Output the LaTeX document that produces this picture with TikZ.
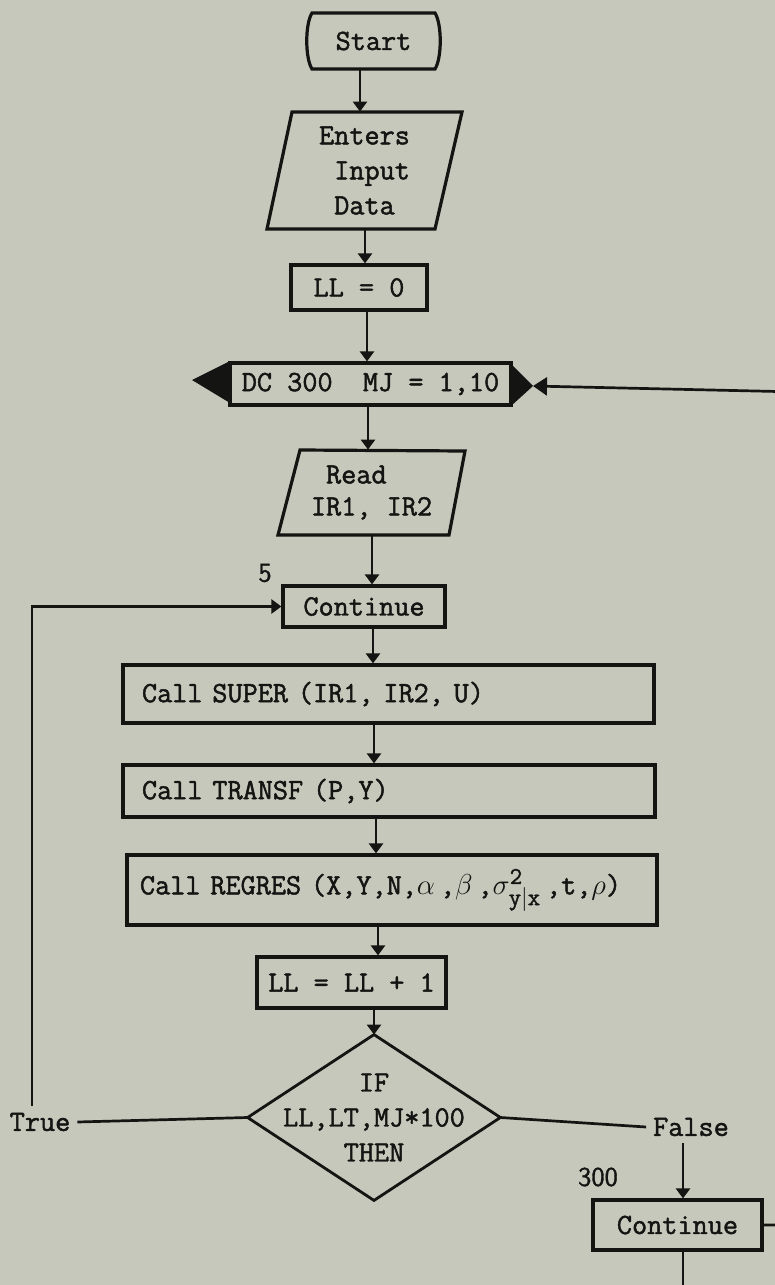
\documentclass[tikz,border=0pt]{standalone}
\usepackage{fontspec}
\newfontfamily\typew{Latin Modern Mono}[FakeBold=1.6]
\newfontfamily\labfont{Latin Modern Sans}[FakeBold=1.2]
\usetikzlibrary{arrows.meta}
\definecolor{bg}{RGB}{198,200,187}
\definecolor{ink}{RGB}{20,20,18}
\tikzset{
  tt/.style={font=\fontsize{14.7}{17.5}\selectfont\typew, text=ink},
  lbl/.style={font=\fontsize{13.5}{16}\selectfont\labfont, text=ink},
  boxline/.style={draw=ink, line width=1.6pt},
  pbox/.style={tt, boxline, inner sep=0pt},
  conn/.style={draw=ink, line width=1.35pt},
  arr/.style={conn, -{Triangle[length=5pt,width=7pt]}},
  bigarr/.style={conn, -{Triangle[length=7pt,width=9pt]}}
}
\begin{document}
\begin{tikzpicture}[x=0.5pt,y=-0.5pt]
\useasboundingbox[fill=bg] (0,0) rectangle (775,1285);
\clip (0,0) rectangle (775,1285);

% Start
\node[tt, minimum width=66.5pt, minimum height=28pt, inner sep=0pt] (start) at (373.5,41) {Start};
\draw[boxline] (312,13) -- (435,13) .. controls (442,24) and (442,58) .. (435,69) -- (312,69) .. controls (305,58) and (305,24) .. (312,13) -- cycle;

% Enters Input Data
\node[tt, align=left, minimum width=97.5pt, minimum height=58.5pt, inner sep=0pt] (enters) at (364.5,170.5) {Enters\\\phantom{E}Input\\\phantom{E}Data};
\draw[boxline] (292,112) -- (462,112) -- (435,229) -- (267,229) -- cycle;

% LL = 0
\node[pbox, minimum width=68pt, minimum height=22.5pt] (ll0) at (359,287.5) {LL = 0};

% DO box
\node[pbox, minimum width=140.5pt, minimum height=21pt] (dc) at (370.5,384) {DC 300\ \ MJ = 1,10};
\fill[ink] (230,361) -- (192,380) -- (230,403) -- cycle;
\fill[ink] (511,364) -- (533,386) -- (511,406) -- cycle;
\coordinate (dctip) at (533,386);

% Read
\node[tt, font=\fontsize{14.7}{16}\selectfont\typew, align=left, minimum width=93.5pt, minimum height=42.5pt, inner sep=0pt] (read) at (371.5,492.5) {\phantom{I}Read\\IR1, IR2};
\draw[boxline] (300,450) -- (465,451) -- (449,535) -- (278,535) -- cycle;

% Continue 5
\node[pbox, minimum width=81pt, minimum height=20.5pt] (cont5) at (364,606.5) {Continue};
\node[lbl] (l5) at (265,573) {5};

% Calls
\node[pbox, align=left, text width=246.5pt, inner xsep=9.5pt, minimum height=29pt] (super) at (388.5,694) {Call SUPER (IR1, IR2, U)};
\node[pbox, align=left, text width=247pt, inner xsep=9.5pt, minimum height=26pt] (transf) at (389,791) {Call TRANSF (P,Y)};
\node[pbox, align=left, text width=252pt, inner xsep=6.5pt, minimum height=35pt] (regres) at (392,890) {Call REGRES (X,Y,N,$\alpha$\,,$\beta$\,,$\sigma^{\hbox{\fontsize{12}{12}\selectfont\typew 2}}_{\hbox{\fontsize{12}{12}\selectfont\typew y$|$x}}$\,,t,$\rho$)};

% LL = LL + 1
\node[pbox, minimum width=94.5pt, minimum height=25.5pt] (ll1) at (351.5,982.5) {LL = LL + 1};

% Decision
\node[tt, align=center, minimum width=126pt, minimum height=82.5pt, inner sep=0pt] (dia) at (374,1117.5) {IF\\LL,LT,MJ*100\\THEN};
\draw[draw=ink, line width=1.4pt, line join=miter] (dia.north) -- (dia.east) -- (dia.south) -- (dia.west) -- cycle;

\node[tt] (truelbl) at (40,1122) {True};
\node[tt] (falselbl) at (691,1127) {False};

% Continue 300
\node[pbox, minimum width=84.5pt, minimum height=25pt] (cont300) at (677.5,1225) {Continue};
\node[lbl] (l300) at (598,1177) {300};

% axis coordinates
\coordinate (c1) at (360,0);
\coordinate (c2) at (365,0);
\coordinate (c3) at (367,0);
\coordinate (c4) at (368,0);
\coordinate (c5) at (372,0);
\coordinate (c6) at (373,0);
\coordinate (c7) at (374,0);
\coordinate (c8) at (376,0);
\coordinate (c9) at (378,0);
\coordinate (lp) at (32,0);
\coordinate (rx) at (683,0);
\coordinate (endB) at (683,1296);
\coordinate (loopT) at (800,392);

% connectors
\draw[arr] (start.south -| c1) -- (enters.north -| c1);
\draw[arr] (enters.south -| c2) -- (ll0.north -| c2);
\draw[arr] (ll0.south -| c3) -- (dc.north -| c3);
\draw[arr] (dc.south -| c4) -- (read.north -| c4);
\draw[arr] (read.south -| c5) -- (cont5.north -| c5);
\draw[arr] (cont5.south -| c6) -- (super.north -| c6);
\draw[arr] (super.south -| c7) -- (transf.north -| c7);
\draw[arr] (transf.south -| c8) -- (regres.north -| c8);
\draw[arr] (regres.south -| c9) -- (ll1.north -| c9);
\draw[arr] (ll1.south -| dia.north) -- (dia.north);

\draw[conn] (dia.west) -- (truelbl.east);
\draw[arr] (truelbl.north -| lp) |- (cont5.west);
\draw[conn] (dia.east) -- (falselbl.west);
\draw[arr] (falselbl.south -| rx) -- (cont300.north -| rx);
\draw[arr] (cont300.south -| rx) -- (endB);
\draw[bigarr] (cont300.east) -| (loopT) -- (dctip);
\end{tikzpicture}
\end{document}
